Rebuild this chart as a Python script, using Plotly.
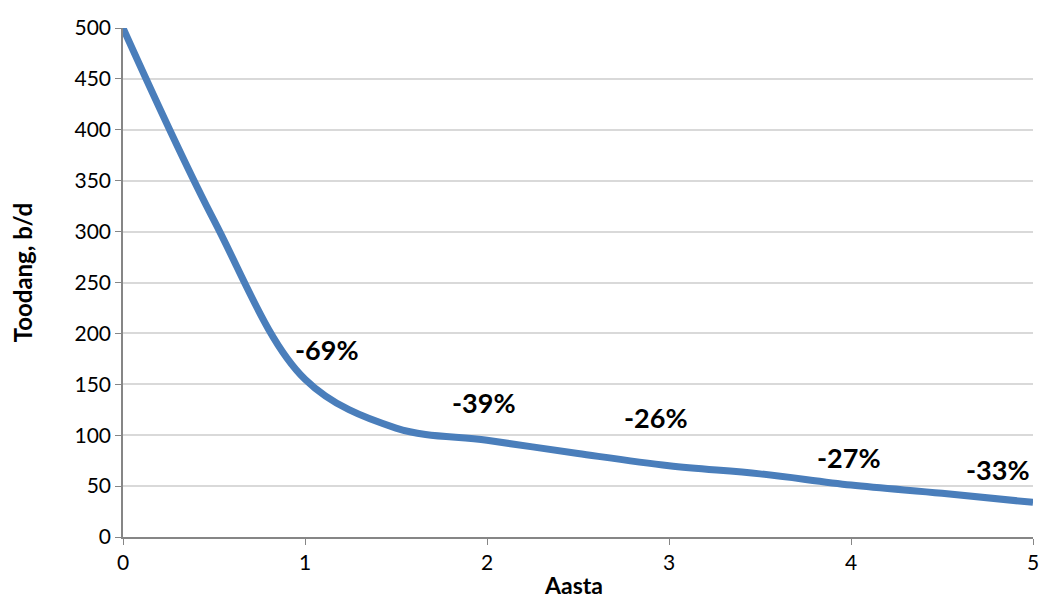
import plotly.graph_objects as go

# Production decline curve
years = [0, 0.5, 1, 1.5, 2, 2.5, 3, 3.5, 4, 4.5, 5]
production = [500, 311, 155, 107, 95, 82, 70, 62, 51, 43, 34]

# Year-over-year decline labels
decline_labels = ["-69%", "-39%", "-26%", "-27%", "-33%"]
label_x = [1.12, 1.985, 2.93, 3.99, 4.81]
label_y = [184, 132, 117, 78, 66]

font_family = "Lato, 'Open Sans', sans-serif"
line_color = "#4A7EBB"
axis_color = "#868686"

fig = go.Figure()
fig.add_trace(go.Scatter(
    x=years, y=production, mode="lines",
    line=dict(color=line_color, width=7, shape="spline", smoothing=1.0),
    hoverinfo="skip", showlegend=False,
))

for txt, lx, ly in zip(decline_labels, label_x, label_y):
    fig.add_annotation(x=lx, y=ly, text=f"<b>{txt}</b>", showarrow=False,
                       font=dict(family=font_family, size=27, color="black"),
                       xanchor="center", yanchor="middle")

# Axis titles placed as annotations for precise positioning
fig.add_annotation(xref="paper", yref="paper", x=-0.111, y=0.52,
                   text="<b>Toodang, b/d</b>", textangle=-90, showarrow=False,
                   font=dict(family=font_family, size=24, color="black"),
                   xanchor="center", yanchor="middle")
fig.add_annotation(xref="paper", yref="paper", x=0.495, y=-0.094,
                   text="<b>Aasta</b>", showarrow=False,
                   font=dict(family=font_family, size=23, color="black"),
                   xanchor="center", yanchor="middle")

fig.update_layout(
    width=1041, height=603,
    margin=dict(l=123, r=8, t=28, b=66, autoexpand=False),
    paper_bgcolor="white", plot_bgcolor="white",
    font=dict(family=font_family, size=21, color="black"),
    xaxis=dict(
        range=[0, 5], tickvals=[0, 1, 2, 3, 4, 5],
        showgrid=False, zeroline=False,
        showline=True, linecolor=axis_color, linewidth=1.5,
        ticks="outside", ticklen=6, tickcolor=axis_color,
        tickfont=dict(size=21), automargin=False,
    ),
    yaxis=dict(
        range=[0, 500], tickvals=list(range(0, 501, 50)),
        showgrid=True, gridcolor="#D9D9D9", gridwidth=1.5, zeroline=False,
        showline=True, linecolor=axis_color, linewidth=1.5,
        ticks="outside", ticklen=6, tickcolor=axis_color,
        tickfont=dict(size=21), automargin=False,
    ),
)

fig.write_html("out.html")
